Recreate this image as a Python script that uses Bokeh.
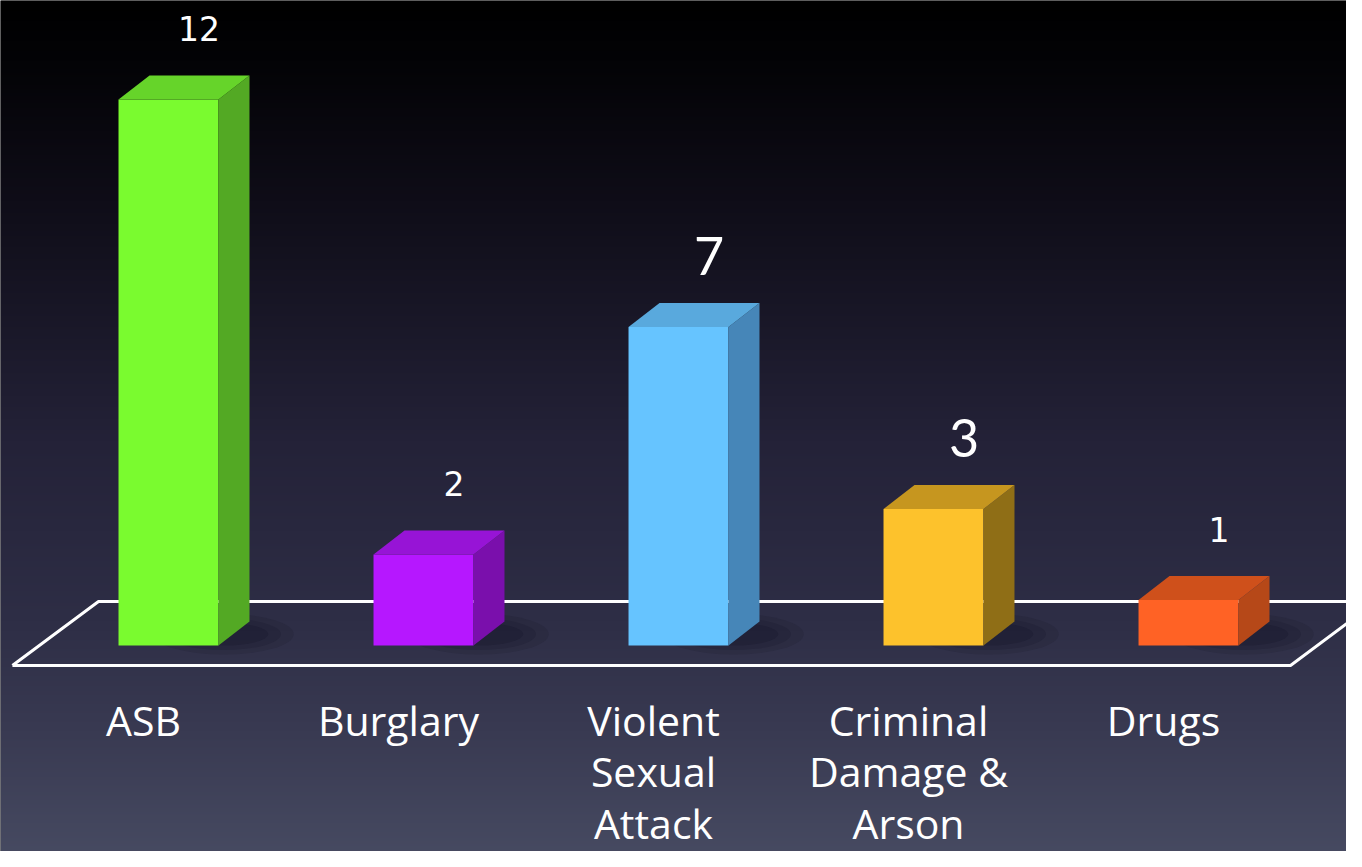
import numpy as np
from bokeh.plotting import figure
from bokeh.models import Range1d, ColumnDataSource
from bokeh.core.properties import value
from bokeh.embed import file_html
from bokeh.resources import INLINE

# ---- data ----
categories = ["ASB", "Burglary", "Violent\nSexual\nAttack", "Criminal\nDamage &\nArson", "Drugs"]
counts = [12, 2, 7, 3, 1]
value_labels = ["12", "2", "7", "3", "1"]

# ---- styles ----
front_colors = ["#7afb2f", "#b617ff", "#66c4ff", "#fdc22c", "#ff6225"]
side_colors = ["#53a924", "#7a0fac", "#4686b8", "#8f6e16", "#b64818"]
top_colors = ["#66d42a", "#9714d6", "#59a9dd", "#c6961f", "#cf501b"]
value_fonts = ["DejaVu Sans", "DejaVu Sans", "Lato", "Lato", "DejaVu Sans"]
value_sizes = ["33px", "33px", "52px", "52px", "33px"]

W, H = 1346, 851
BAR_W = 0.392
DX, DY = 0.1216, 0.527
X0, X1 = -0.6588, 4.6196
Y0, Y1 = -4.527, 14.176

p = figure(width=W, height=H, output_backend="svg", toolbar_location=None,
           x_range=Range1d(X0, X1), y_range=Range1d(Y0, Y1), min_border=0)
p.axis.visible = False
p.grid.visible = False
p.outline_line_color = None
p.background_fill_color = "#000000"
p.border_fill_color = "#000000"

# background gradient (ref y px -> rgb)
stops_y = [0, 60, 200, 440, 620, 730, 867]
stops_c = [(0, 0, 0), (3, 3, 6), (15, 13, 24), (36, 34, 56), (46, 46, 70), (57, 58, 82), (72, 76, 99)]
rows = np.arange(H)[::-1]  # image row 0 at bottom
img = np.zeros((H, 1, 4), dtype=np.uint8)
for k in range(3):
    img[:, 0, k] = np.interp(rows, stops_y, [c[k] for c in stops_c]).astype(np.uint8)
img[:, 0, 3] = 255
p.image_rgba(image=[img.view(np.uint32).reshape(H, 1)], x=X0, y=Y0, dw=X1 - X0, dh=Y1 - Y0)

# floor
fl_x = [-0.612, 4.40, 4.737, -0.2745, -0.612]
fl_y = [-0.44, -0.44, 0.967, 0.967, -0.44]
p.line(fl_x, fl_y, line_color="white", line_width=3)

idx = np.arange(len(counts))
left = idx - BAR_W / 2
right = idx + BAR_W / 2
vals = np.array(counts, dtype=float)

# soft shadows
for a, w_, h_ in [(0.10, 0.55, 0.9), (0.12, 0.45, 0.7), (0.15, 0.35, 0.5)]:
    p.ellipse(x=right + 0.02, y=np.full(len(counts), 0.25), width=w_, height=h_,
              fill_color="#0a0a18", fill_alpha=a, line_color=None)

src = ColumnDataSource(dict(
    left=left, right=right, top=vals, bottom=np.zeros(len(counts)),
    front=front_colors, side=side_colors, topc=top_colors,
    side_xs=[[r, r + DX, r + DX, r] for r in right],
    side_ys=[[0, DY, v + DY, v] for v in vals],
    top_xs=[[l, r, r + DX, l + DX] for l, r in zip(left, right)],
    top_ys=[[v, v, v + DY, v + DY] for v in vals],
    lx=idx + 0.12, ly=vals + DY + 1.03, vlab=value_labels,
    vfont=value_fonts, vsize=value_sizes,
    cx=idx - 0.098, cy=np.full(len(counts), -1.02), cat=categories,
))

p.quad(left="left", right="right", top="top", bottom="bottom", fill_color="front",
       line_color=None, source=src)
p.patches(xs="side_xs", ys="side_ys", fill_color="side", line_color=None, source=src)
p.patches(xs="top_xs", ys="top_ys", fill_color="topc", line_color=None, source=src)

p.text(x="lx", y="ly", text="vlab", text_font="vfont", text_font_size="vsize",
       text_color="white", text_align="center", text_baseline="middle", source=src)
p.text(x="cx", y="cy", text="cat", text_font=value("Open Sans"), text_font_size="41px",
       text_color="white", text_align="center", text_baseline="top",
       text_line_height=0.92, source=src)

open("out.html", "w").write(file_html(p, INLINE))
